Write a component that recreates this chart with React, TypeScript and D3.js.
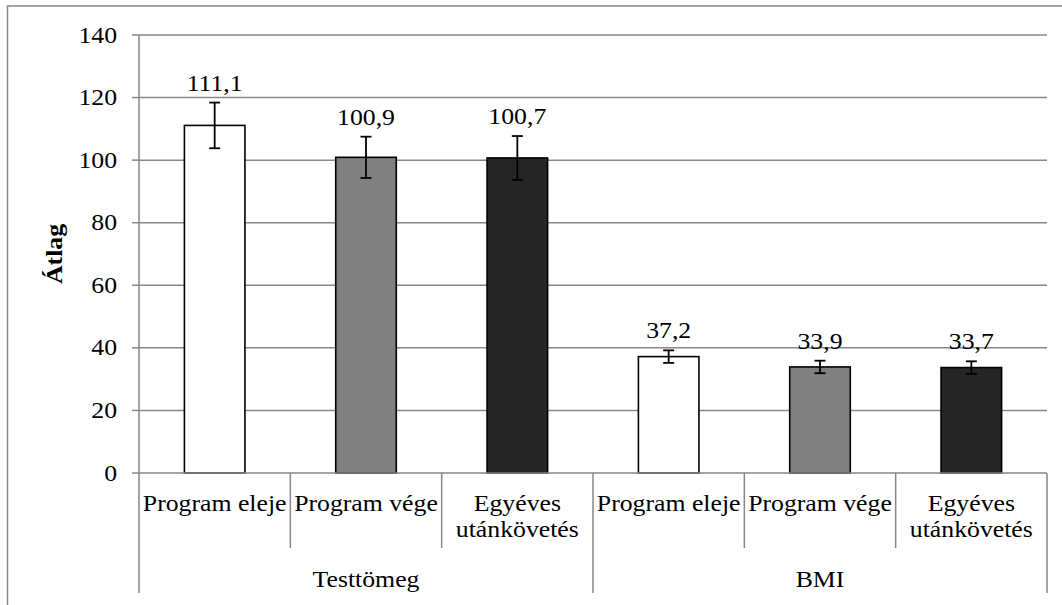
import React from "react";
import * as d3 from "d3";

const groups = ["Testtömeg", "BMI"];
const categories = ["Program eleje", "Program vége", "Egyéves utánkövetés"];
const categoryLines = [["Program eleje"], ["Program vége"], ["Egyéves", "utánkövetés"]];
const values = [111.1, 100.9, 100.7, 37.2, 33.9, 33.7];
const errors = [7.3, 6.6, 7.0, 2.0, 2.0, 2.0];
const labels = ["111,1", "100,9", "100,7", "37,2", "33,9", "33,7"];
const yTicks = [0, 20, 40, 60, 80, 100, 120, 140];
const fills = ["#ffffff", "#808080", "#262626"];

const FONT = "Liberation Serif, DejaVu Serif, serif";
const SX = 1.14;
const FS = 22.6;
const GRID = "#878787";

export default function App() {
  const left = 139, right = 1047, top = 35, bottom = 473;
  const items = groups.flatMap((g, gi) => categories.map((c, ci) => ({ key: `${gi}-${ci}`, gi, ci })));
  const x = d3.scaleBand<string>().domain(items.map(d => d.key)).range([left, right]).paddingInner(0).paddingOuter(0);
  const y = d3.scaleLinear().domain([0, 140]).range([bottom, top]);
  const bw = x.bandwidth();
  const barW = bw * 0.4;

  const T = (props: { x: number; y: number; children: any; anchor?: string; weight?: any; rotate?: number }) => (
    <text
      transform={`translate(${props.x},${props.y})${props.rotate ? ` rotate(${props.rotate})` : ""} scale(${SX},1)`}
      textAnchor={props.anchor || "middle"}
      style={{ fontFamily: FONT, fontSize: FS, fontWeight: props.weight || "normal" }}
      fill="#000"
    >
      {props.children}
    </text>
  );

  return (
    <svg width={1062} height={605} style={{ position: "absolute", left: 0, top: 0, background: "#fff" }}>
      <rect x={0} y={0} width={1062} height={605} fill="#fff" />
      <path d={`M7.5,610 V6 H1070`} fill="none" stroke={GRID} strokeWidth={1.5} />
      {yTicks.map(t => (
        <g key={t}>
          {t > 0 && <line x1={left} x2={right} y1={y(t)} y2={y(t)} stroke={GRID} strokeWidth={1.5} />}
          <line x1={left - 7} x2={left} y1={y(t)} y2={y(t)} stroke={GRID} strokeWidth={1.5} />
          <T x={117} y={y(t) + 7.5} anchor="end">{String(t)}</T>
        </g>
      ))}
      {items.map((d, i) => {
        const cx = (x(d.key) as number) + bw / 2;
        const v = values[i];
        const e = errors[i];
        return (
          <g key={d.key}>
            <rect x={cx - barW / 2} y={y(v)} width={barW} height={y(0) - y(v)} fill={fills[d.ci]} stroke="#000" strokeWidth={1.6} />
            <line x1={cx} x2={cx} y1={y(v + e)} y2={y(v - e)} stroke="#000" strokeWidth={1.8} />
            <line x1={cx - 5.5} x2={cx + 5.5} y1={y(v + e)} y2={y(v + e)} stroke="#000" strokeWidth={1.8} />
            <line x1={cx - 5.5} x2={cx + 5.5} y1={y(v - e)} y2={y(v - e)} stroke="#000" strokeWidth={1.8} />
            <T x={cx} y={y(v + e) - 12}>{labels[i]}</T>
          </g>
        );
      })}
      <line x1={left} x2={right} y1={bottom} y2={bottom} stroke={GRID} strokeWidth={1.5} />
      <line x1={left} x2={left} y1={top} y2={593} stroke={GRID} strokeWidth={1.5} />
      {items.map((d, i) => {
        const x0 = x(d.key) as number;
        const isGroupEnd = d.ci === categories.length - 1;
        const xe = x0 + bw;
        return (
          <g key={"c" + d.key}>
            <line x1={xe} x2={xe} y1={bottom} y2={isGroupEnd ? 593 : 548} stroke={GRID} strokeWidth={1.5} />
            {categoryLines[d.ci].map((ln, li) => (
              <T key={li} x={x0 + bw / 2} y={511 + li * 26}>{ln}</T>
            ))}
          </g>
        );
      })}
      {groups.map((g, gi) => {
        const x0 = x(`${gi}-0`) as number;
        const x1 = (x(`${gi}-${categories.length - 1}`) as number) + bw;
        return <T key={g} x={(x0 + x1) / 2} y={587}>{g}</T>;
      })}
      <T x={62} y={254} rotate={-90} weight="bold">Átlag</T>
    </svg>
  );
}
